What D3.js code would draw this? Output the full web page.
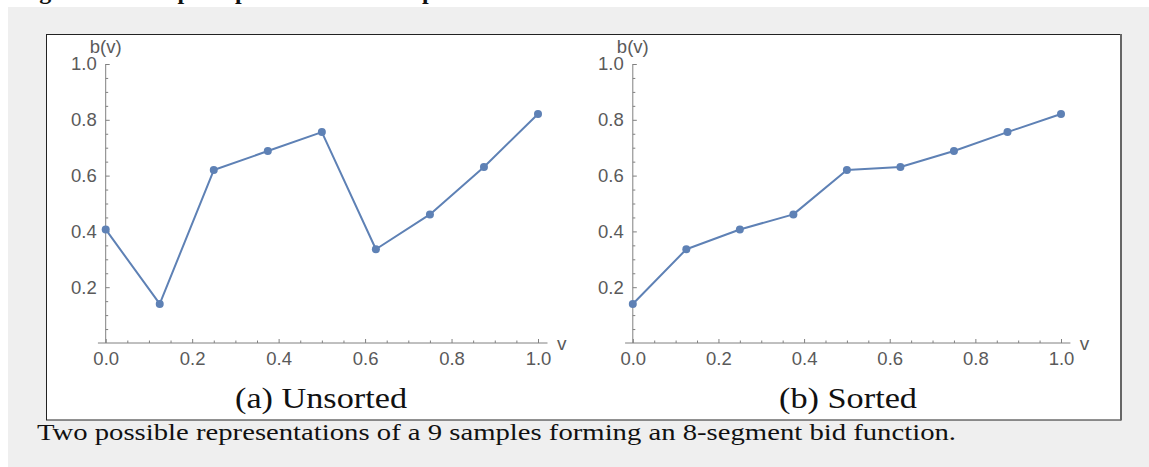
<!DOCTYPE html>
<html><head><meta charset="utf-8">
<script src="https://cdn.jsdelivr.net/npm/d3@7"></script>
<style>body{margin:0;background:#fff;} svg{display:block}</style>
</head><body>
<svg id="c" width="1149" height="467"></svg>
<script>
// ---- data ----
const vSamples    = [0, 0.125, 0.25, 0.375, 0.5, 0.625, 0.75, 0.875, 1.0];
const bidUnsorted = [0.407, 0.140, 0.620, 0.688, 0.756, 0.336, 0.461, 0.631, 0.821];
const bidSorted   = [0.140, 0.336, 0.407, 0.461, 0.620, 0.631, 0.688, 0.756, 0.821];
const xTicks = [0, 0.2, 0.4, 0.6, 0.8, 1.0];
const yTicks = [0.2, 0.4, 0.6, 0.8, 1.0];
const xMinor = [0.05,0.1,0.15,0.25,0.3,0.35,0.45,0.5,0.55,0.65,0.7,0.75,0.85,0.9,0.95];
const yMinor = [0.05,0.1,0.15,0.25,0.3,0.35,0.45,0.5,0.55,0.65,0.7,0.75,0.85,0.9,0.95];
const panelTitles = ["(a) Unsorted", "(b) Sorted"];
const xLabel = "v", yLabel = "b(v)";
const caption = "Two possible representations of a 9 samples forming an 8-segment bid function.";
const heading = "Figure 3: Example representations of a piecewise bid function";

// ---- drawing ----
const svg = d3.select("#c");
const W = 1149, H = 467;
svg.append("rect").attr("x",0).attr("y",0).attr("width",W).attr("height",H).attr("fill","#fff");
svg.append("rect").attr("x",8).attr("y",7).attr("width",W-8).attr("height",H-7).attr("fill","#efefef");
// heading of the page, scrolled mostly out of view (only descenders visible)
svg.append("text").attr("x",18).attr("y",-1)
  .attr("font-family","Liberation Serif").attr("font-weight","bold").attr("font-size",24)
  .attr("fill","#111").text(heading);

// figure box
svg.append("rect").attr("x",46.5).attr("y",34.5).attr("width",1074).attr("height",385.5)
  .attr("fill","#fff").attr("stroke","#222").attr("stroke-width",1);
svg.append("line").attr("x1",1121).attr("x2",1121).attr("y1",34).attr("y2",420.5)
  .attr("stroke","#666").attr("stroke-width",2);

const panels = [
  {data: bidUnsorted, x0: 105.7, x1: 538, title: panelTitles[0], tx: 321, tw: 172},
  {data: bidSorted,   x0: 632.8, x1: 1061, title: panelTitles[1], tx: 848, tw: 138}
];
const yScale = d3.scaleLinear().domain([0,1]).range([343,64]);
const axisCol = "#808080", labCol = "#5a5a5a";
const lineCol = "#5e81b5";

panels.forEach(p => {
  const x = d3.scaleLinear().domain([0,1]).range([p.x0, p.x1]);
  const g = svg.append("g");
  const y0 = yScale(0);

  // x axis: major with labels
  const gx = g.append("g").attr("transform",`translate(0,${y0})`)
    .call(d3.axisBottom(x).tickValues(xTicks).tickFormat(d3.format(".1f")).tickSizeInner(-4).tickSizeOuter(0).tickPadding(9));
  gx.select(".domain").remove();
  gx.selectAll("line").attr("stroke",axisCol);
  gx.selectAll("text").attr("fill",labCol).attr("font-family","Liberation Sans").attr("font-size",18.5);
  const gxm = g.append("g").attr("transform",`translate(0,${y0})`)
    .call(d3.axisBottom(x).tickValues(xMinor).tickFormat("").tickSizeInner(-2.5).tickSizeOuter(0));
  gxm.select(".domain").remove();
  gxm.selectAll("line").attr("stroke",axisCol);
  g.append("line").attr("x1",x(-0.018)).attr("x2",x(1.022)).attr("y1",y0).attr("y2",y0)
    .attr("stroke",axisCol).attr("stroke-width",1);

  // y axis
  const gy = g.append("g").attr("transform",`translate(${x(0)},0)`)
    .call(d3.axisLeft(yScale).tickValues(yTicks).tickFormat(d3.format(".1f")).tickSizeInner(-4).tickSizeOuter(0).tickPadding(9));
  gy.select(".domain").remove();
  gy.selectAll("line").attr("stroke",axisCol);
  gy.selectAll("text").attr("fill",labCol).attr("font-family","Liberation Sans").attr("font-size",18.5);
  const gym = g.append("g").attr("transform",`translate(${x(0)},0)`)
    .call(d3.axisLeft(yScale).tickValues(yMinor).tickFormat("").tickSizeInner(-2.5).tickSizeOuter(0));
  gym.select(".domain").remove();
  gym.selectAll("line").attr("stroke",axisCol);
  g.append("line").attr("x1",x(0)).attr("x2",x(0)).attr("y1",y0).attr("y2",yScale(1))
    .attr("stroke",axisCol).attr("stroke-width",1);

  // axis labels
  g.append("text").attr("x",x(0)).attr("y",yScale(1)-11).attr("text-anchor","middle")
    .attr("font-family","Liberation Sans").attr("font-size",18.5).attr("fill",labCol).text(yLabel);
  g.append("text").attr("x",x(1.055)).attr("y",y0+7).attr("text-anchor","middle")
    .attr("font-family","Liberation Sans").attr("font-size",19).attr("fill",labCol).text(xLabel);

  // series
  const pts = vSamples.map((v,i)=>[v,p.data[i]]);
  g.append("path").datum(pts)
    .attr("d", d3.line().x(d=>x(d[0])).y(d=>yScale(d[1])))
    .attr("fill","none").attr("stroke",lineCol).attr("stroke-width",2).attr("stroke-linejoin","round");
  g.selectAll("circle.pt").data(pts).enter().append("circle")
    .attr("cx",d=>x(d[0])).attr("cy",d=>yScale(d[1])).attr("r",4).attr("fill",lineCol);

  // subtitle
  g.append("text").attr("x",p.tx).attr("y",408).attr("text-anchor","middle")
    .attr("font-family","Liberation Serif").attr("font-size",30).attr("fill","#111")
    .attr("textLength",p.tw).attr("lengthAdjust","spacingAndGlyphs").text(p.title);
});

// caption
svg.append("text").attr("x",37).attr("y",440)
  .attr("font-family","Liberation Serif").attr("font-size",23).attr("fill","#111")
  .attr("textLength",919).attr("lengthAdjust","spacingAndGlyphs").text(caption);
</script>
</body></html>
